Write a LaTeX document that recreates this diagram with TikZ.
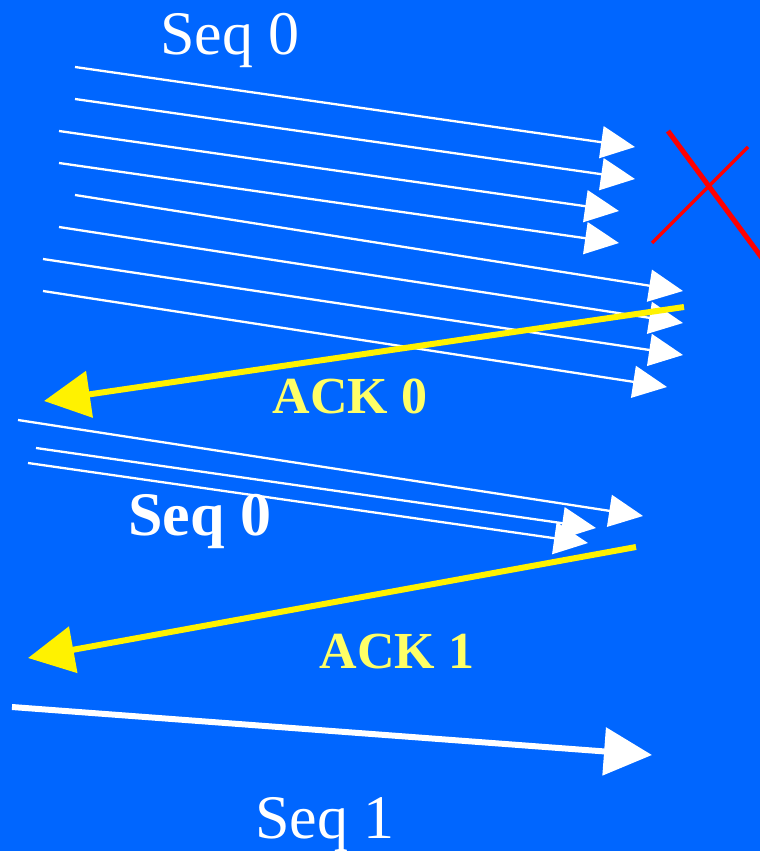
\documentclass[tikz,border=0pt]{standalone}
\usepackage{fontspec}
\setmainfont{Liberation Serif}
\usetikzlibrary{arrows.meta}
\definecolor{bgblue}{RGB}{0,102,255}
\definecolor{acklabel}{RGB}{255,255,102}
\tikzset{
  seqthin/.style={draw=white, line width=2.3pt, -{Triangle[length=34pt,width=32pt]}},
  ackarrow/.style={draw=yellow, line width=6pt, -{Triangle[length=46pt,width=46pt]}},
  seqthick/.style={draw=white, line width=6pt, -{Triangle[length=48pt,width=47pt]}},
  cross/.style={draw=red},
  lbl/.style={anchor=base, inner sep=0pt, font=\fontsize{62}{62}\selectfont},
  lblbold/.style={anchor=base, inner sep=0pt, font=\fontsize{62}{62}\selectfont\bfseries},
  acklbl/.style={anchor=base, inner sep=0pt, text=acklabel, font=\fontsize{52}{52}\selectfont\bfseries}
}
\begin{document}
\begin{tikzpicture}[x=1pt, y=-1pt]
\fill[bgblue] (0,0) rectangle (760,851);
\useasboundingbox (0,0) rectangle (760,851);
% labels
\node[lbl, text=white] (seqtop) at (230,55) {Seq 0};
\node[lblbold, text=white] (seqmid) at (200,535) {Seq 0};
\node[lbl, text=white] (seqone) at (325,838) {Seq 1};
\node[acklbl] (ackzero) at (350,413) {ACK 0};
\node[acklbl] (ackone) at (397,668) {ACK 1};
% first burst
\coordinate (s1) at (75,67);   \coordinate (e1) at (635,147);
\coordinate (s2) at (75,99);   \coordinate (e2) at (635,179);
\coordinate (s3) at (59,131);  \coordinate (e3) at (619,211);
\coordinate (s4) at (59,163);  \coordinate (e4) at (619,243);
\coordinate (s5) at (75,195);  \coordinate (e5) at (683,291);
\coordinate (s6) at (59,227);  \coordinate (e6) at (683,323);
\coordinate (s7) at (43,259);  \coordinate (e7) at (683,355);
\coordinate (s8) at (43,291);  \coordinate (e8) at (667,387);
\foreach \i in {1,...,8} { \draw[seqthin] (s\i) -- (e\i); }
% red cross
\coordinate (xa1) at (668,131); \coordinate (xa2) at (762,258);
\coordinate (xb1) at (748,147); \coordinate (xb2) at (652,243);
\draw[cross, line width=5pt] (xa1) -- (xa2);
\draw[cross, line width=3.5pt] (xb1) -- (xb2);
% ACK 0
\coordinate (a0s) at (684,307); \coordinate (a0e) at (44,401);
\draw[ackarrow] (a0s) -- (a0e);
% second burst
\coordinate (m1s) at (18,420);  \coordinate (m1e) at (643,516);
\coordinate (m2s) at (36,448);  \coordinate (m2e) at (596,528);
\coordinate (m3s) at (28,463);  \coordinate (m3e) at (588,543);
\draw[seqthin] (m1s) -- (m1e);
\draw[seqthin] (m2s) -- (m2e);
\draw[seqthin] (m3s) -- (m3e);
% ACK 1
\coordinate (a1s) at (636,547); \coordinate (a1e) at (28,658);
\draw[ackarrow] (a1s) -- (a1e);
% Seq 1
\coordinate (b1s) at (12,707); \coordinate (b1e) at (652,755);
\draw[seqthick] (b1s) -- (b1e);
\end{tikzpicture}
\end{document}
